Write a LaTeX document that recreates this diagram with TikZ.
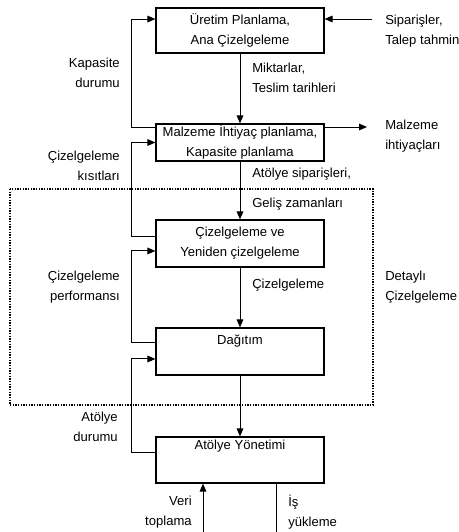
\documentclass[tikz,border=0pt]{standalone}
\usepackage{fontspec}
\setmainfont{Liberation Sans}
\usetikzlibrary{arrows.meta}

\begin{document}
\begin{tikzpicture}[x=0.75pt,y=0.75pt,yscale=-1,xscale=1,
	every node/.style={font=\fontsize{9.8}{15}\selectfont},
	kutu/.style={draw, line width=0.9pt, minimum width=126pt, align=center, inner sep=0pt},
	etiket/.style={inner sep=0pt, align=left, anchor=west},
	etiketsag/.style={inner sep=0pt, align=right, anchor=east},
	ok/.style={-{Triangle[length=6pt,width=5pt]}, line width=0.75pt}]
	\useasboundingbox (0,0) rectangle (458,532);
	\clip (0,0) rectangle (458,532);
	% kutular
	\node[kutu, minimum height=33.75pt] (uretim) at (240,30.5) {Üretim Planlama,\\Ana Çizelgeleme};
	\node[kutu, minimum height=27.75pt] (mip) at (240,142.5) {Malzeme İhtiyaç planlama,\\Kapasite planlama};
	\node[kutu, minimum height=35.25pt] (cizelge) at (240,243.5) {Çizelgeleme ve\\Yeniden çizelgeleme};
	\node[kutu, minimum height=35.25pt] (dagitim) at (240,351.5) {};
	\node[anchor=north, inner sep=0pt] (dagitimyazi) at ([yshift=5.6pt]dagitim.north) {Dağıtım};
	\node[kutu, minimum height=34.5pt] (atolye) at (240,460) {};
	\node[anchor=north, inner sep=0pt] (atolyeyazi) at ([yshift=2.5pt]atolye.north) {Atölye Yönetimi};
	% detayli cizelgeleme cercevesi
	\draw[densely dotted, line width=1pt] (10,189) rectangle (373,405);
	% ana akis
	\draw[ok] (uretim) -- (mip);
	\draw[ok] (mip) -- (cizelge);
	\draw[ok] (cizelge) -- (dagitim);
	\draw[ok] (dagitim) -- (atolye);
	% geri besleme
	\draw[ok] ([yshift=-11.6pt]mip.west) -- ++(-24,0) |- ([yshift=-8.6pt]uretim.west);
	\draw[ok] ([yshift=-5.6pt]cizelge.west) -- ++(-24,0) |- (mip.west);
	\draw[ok] ([yshift=-6.4pt]dagitim.west) -- ++(-24,0) |- ([yshift=5.6pt]cizelge.west);
	\draw[ok] ([yshift=-6pt]atolye.west) -- ++(-24,0) |- ([yshift=5.6pt]dagitim.west);
	% dis girdiler ve ciktilar
	\coordinate (siparis) at (372,19);
	\draw[ok] (siparis) -- (siparis -| uretim.east);
	\coordinate (ihtiyac) at (367,127);
	\draw[ok] (ihtiyac -| mip.east) -- (ihtiyac);
	\coordinate (veri) at (203,532);
	\draw[ok] (veri) -- (veri |- atolye.south);
	\coordinate (isyukleme) at (276,532);
	\draw[line width=0.75pt] (isyukleme |- atolye.south) -- (isyukleme);
	% etiketler
	\node[etiket] (siparisyazi) at (385,31) {Siparişler,\\Talep tahmini};
	\node[etiket] (ihtiyacyazi) at (385,136) {Malzeme\\ihtiyaçları};
	\node[etiketsag] (kapasite) at (120,73) {Kapasite\\durumu};
	\node[etiket] (miktar) at (252,78) {Miktarlar,\\Teslim tarihleri};
	\node[etiketsag] (kisit) at (120,166) {Çizelgeleme\\kısıtları};
	\node[etiket] (atolyesiparis) at (252,174) {Atölye siparişleri,};
	\node[etiket] (gelis) at (252,204) {Geliş zamanları};
	\node[etiket] (cizelgeyazi) at (252,285) {Çizelgeleme};
	\node[etiketsag] (performans) at (120,287) {Çizelgeleme\\performansı};
	\node[etiket] (detay) at (385,287) {Detaylı\\Çizelgeleme};
	\node[etiketsag] (durum) at (118,427) {Atölye\\durumu};
	\node[etiketsag] (veriyazi) at (192,512) {Veri\\toplama};
	\node[etiket] (isyazi) at (288,512) {İş\\yükleme};
\end{tikzpicture}
\end{document}
